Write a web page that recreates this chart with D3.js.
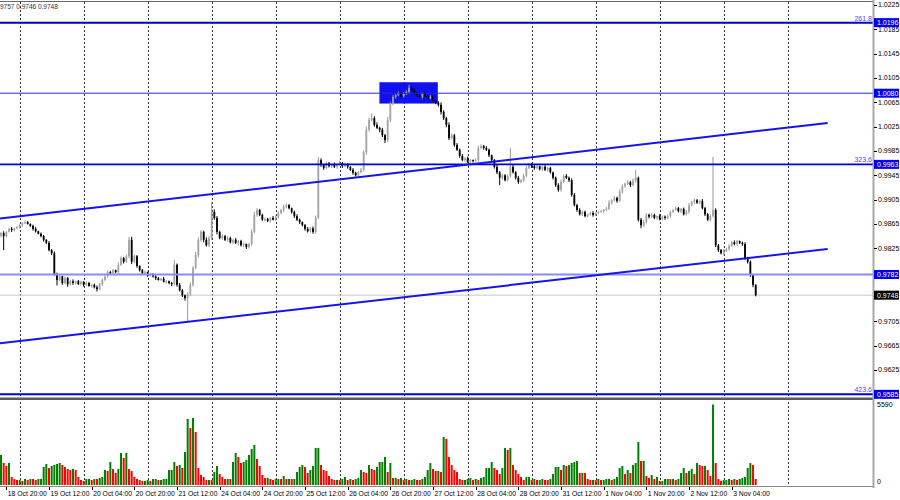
<!DOCTYPE html>
<html><head><meta charset="utf-8">
<script src="https://cdn.jsdelivr.net/npm/d3@7"></script>
<style>body{margin:0;background:#fff}svg{display:block;font-family:"Liberation Sans",Arial,sans-serif}</style>
</head><body><svg id="c" width="900" height="500"></svg>
<script>
// ---- data (H1 bars) ----
const closes=[
0.9850,0.9845,0.9852,0.9857,0.9855,0.9858,0.9860,0.9863,0.9867,0.9868,
0.9865,0.9862,0.9857,0.9853,0.9849,0.9845,0.9839,0.9834,0.9822,0.9817,
0.9783,0.9773,0.9779,0.9768,0.9776,0.9766,0.9771,0.9768,0.9771,0.9766,
0.9770,0.9765,0.9768,0.9763,0.9765,0.9761,0.9758,0.9766,0.9773,0.9779,
0.9786,0.9784,0.9789,0.9786,0.9798,0.9809,0.9803,0.9812,0.9839,0.9803,
0.9812,0.9796,0.9789,0.9784,0.9786,0.9781,0.9783,0.9779,0.9776,0.9773,
0.9775,0.9770,0.9771,0.9768,0.9766,0.9798,0.9765,0.9756,0.9748,0.9743,
0.9750,0.9765,0.9793,0.9814,0.9839,0.9852,0.9839,0.9830,0.9842,0.9885,
0.9875,0.9852,0.9842,0.9845,0.9839,0.9842,0.9835,0.9839,0.9834,0.9837,
0.9830,0.9832,0.9827,0.9832,0.9852,0.9880,0.9888,0.9880,0.9872,0.9873,
0.9870,0.9875,0.9872,0.9877,0.9883,0.9888,0.9893,0.9896,0.9891,0.9885,
0.9878,0.9872,0.9868,0.9863,0.9857,0.9853,0.9858,0.9852,0.9875,0.9970,
0.9962,0.9957,0.9965,0.9960,0.9963,0.9959,0.9962,0.9965,0.9960,0.9963,
0.9959,0.9954,0.9949,0.9945,0.9950,0.9954,0.9983,1.0020,1.0036,1.0039,
1.0028,1.0023,1.0020,1.0011,1.0003,1.0036,1.0062,1.0074,1.0077,1.0080,
1.0075,1.0079,1.0082,1.0089,1.0085,1.0080,1.0077,1.0074,1.0079,1.0075,
1.0072,1.0074,1.0069,1.0064,1.0061,1.0049,1.0039,1.0028,1.0006,1.0011,
0.9995,0.9987,0.9977,0.9970,0.9973,0.9967,0.9970,0.9969,0.9970,0.9990,
0.9993,0.9990,0.9987,0.9978,0.9970,0.9959,0.9950,0.9941,0.9945,0.9937,
0.9944,0.9959,0.9950,0.9941,0.9934,0.9937,0.9944,0.9957,0.9963,0.9960,
0.9957,0.9960,0.9955,0.9959,0.9954,0.9957,0.9950,0.9941,0.9929,0.9921,
0.9934,0.9944,0.9941,0.9937,0.9913,0.9896,0.9888,0.9881,0.9885,0.9878,
0.9881,0.9883,0.9880,0.9883,0.9885,0.9886,0.9888,0.9890,0.9900,0.9904,
0.9908,0.9903,0.9918,0.9927,0.9931,0.9934,0.9929,0.9936,0.9941,0.9872,
0.9863,0.9868,0.9880,0.9877,0.9880,0.9875,0.9878,0.9873,0.9877,0.9875,
0.9878,0.9885,0.9888,0.9891,0.9886,0.9890,0.9881,0.9885,0.9896,0.9901,
0.9904,0.9900,0.9903,0.9891,0.9881,0.9872,0.9878,0.9888,0.9830,0.9822,
0.9817,0.9821,0.9824,0.9829,0.9835,0.9832,0.9837,0.9834,0.9832,0.9809,
0.9803,0.9781,0.9765,0.9748];
const opens=[
0.9846,0.9850,0.9845,0.9852,0.9857,0.9855,0.9858,0.9860,0.9863,0.9867,
0.9868,0.9865,0.9862,0.9857,0.9853,0.9849,0.9845,0.9839,0.9834,0.9822,
0.9817,0.9783,0.9773,0.9779,0.9768,0.9776,0.9766,0.9771,0.9768,0.9771,
0.9766,0.9770,0.9765,0.9768,0.9763,0.9765,0.9761,0.9758,0.9766,0.9773,
0.9779,0.9786,0.9784,0.9789,0.9786,0.9798,0.9809,0.9803,0.9812,0.9839,
0.9803,0.9812,0.9796,0.9789,0.9784,0.9786,0.9781,0.9783,0.9779,0.9776,
0.9773,0.9775,0.9770,0.9771,0.9768,0.9766,0.9798,0.9765,0.9756,0.9748,
0.9743,0.9750,0.9765,0.9793,0.9814,0.9839,0.9852,0.9839,0.9830,0.9842,
0.9885,0.9875,0.9852,0.9842,0.9845,0.9839,0.9842,0.9835,0.9839,0.9834,
0.9837,0.9830,0.9832,0.9827,0.9832,0.9852,0.9880,0.9888,0.9880,0.9872,
0.9873,0.9870,0.9875,0.9872,0.9877,0.9883,0.9888,0.9893,0.9896,0.9891,
0.9885,0.9878,0.9872,0.9868,0.9863,0.9857,0.9853,0.9858,0.9852,0.9875,
0.9970,0.9962,0.9957,0.9965,0.9960,0.9963,0.9959,0.9962,0.9965,0.9960,
0.9963,0.9959,0.9954,0.9949,0.9945,0.9950,0.9954,0.9983,1.0020,1.0036,
1.0039,1.0028,1.0023,1.0020,1.0011,1.0003,1.0036,1.0062,1.0074,1.0077,
1.0080,1.0075,1.0079,1.0082,1.0089,1.0085,1.0080,1.0077,1.0074,1.0079,
1.0075,1.0072,1.0074,1.0069,1.0064,1.0061,1.0049,1.0039,1.0028,1.0006,
1.0011,0.9995,0.9987,0.9977,0.9970,0.9973,0.9967,0.9970,0.9969,0.9970,
0.9990,0.9993,0.9990,0.9987,0.9978,0.9970,0.9959,0.9950,0.9941,0.9945,
0.9937,0.9944,0.9959,0.9950,0.9941,0.9934,0.9937,0.9944,0.9957,0.9963,
0.9960,0.9957,0.9960,0.9955,0.9959,0.9954,0.9957,0.9950,0.9941,0.9929,
0.9921,0.9934,0.9944,0.9941,0.9937,0.9913,0.9896,0.9888,0.9881,0.9885,
0.9878,0.9881,0.9883,0.9880,0.9883,0.9885,0.9886,0.9888,0.9890,0.9900,
0.9904,0.9908,0.9903,0.9918,0.9927,0.9931,0.9934,0.9929,0.9936,0.9941,
0.9872,0.9863,0.9868,0.9880,0.9877,0.9880,0.9875,0.9878,0.9873,0.9877,
0.9875,0.9878,0.9885,0.9888,0.9891,0.9886,0.9890,0.9881,0.9885,0.9896,
0.9901,0.9904,0.9900,0.9903,0.9891,0.9881,0.9872,0.9878,0.9888,0.9830,
0.9822,0.9817,0.9821,0.9824,0.9829,0.9835,0.9832,0.9837,0.9834,0.9832,
0.9809,0.9803,0.9781,0.9765];
// wick lengths beyond the body, in pips (0.0001)
const upperWicks=[
2,3,1,2,3,1,2,2,1,3, 2,1,2,3,1,2,2,1,3,2, 3,2,4,1,3,2,2,3,1,2, 2,1,3,2,1,2,3,2,2,1,
3,2,2,1,4,3,2,3,5,5, 3,2,1,2,3,1,2,1,2,2, 1,3,2,1,2,8,2,3,2,1, 3,4,3,5,4,3,2,4,3,16,
4,3,2,3,2,3,2,1,3,2, 2,3,1,2,4,5,3,2,2,3, 2,1,3,2,3,2,4,3,2,1, 2,3,2,1,2,3,2,3,4,5,
3,2,3,2,1,3,2,4,2,3, 2,1,3,2,2,3,3,5,4,8, 3,4,2,3,2,5,4,3,2,3, 2,3,3,5,2,3,2,3,2,3,
2,3,2,1,3,4,3,2,4,3, 2,3,2,3,2,3,2,1,3,4, 3,2,3,2,1,2,3,2,3,2, 3,31,3,2,3,2,3,4,3,2,
2,3,1,2,3,2,2,1,2,3, 4,2,3,2,3,3,2,3,2,2, 1,2,3,2,1,2,2,3,4,2, 3,2,4,3,2,3,2,4,13,2,
3,4,3,2,3,2,1,3,2,2, 3,2,2,3,2,1,2,3,4,2, 3,2,2,3,2,2,3,87,3,2, 2,3,2,3,2,3,2,1,2,3,
2,2,1,1];
const lowerWicks=[
3,23,2,1,3,2,1,2,3,2, 1,2,3,2,1,2,3,2,2,3, 3,9,2,3,2,4,2,3,2,1, 2,3,2,1,3,2,4,2,3,2,
2,3,1,2,3,2,3,2,3,4, 2,3,2,1,2,3,2,2,3,1, 2,1,3,2,3,2,3,2,3,4, 39,3,3,2,4,3,4,2,3,3,
3,4,2,3,2,3,2,3,2,4, 2,3,3,2,3,2,3,2,2,3, 2,3,1,2,3,2,3,2,2,3, 3,2,3,2,3,2,2,3,3,2,
3,3,2,2,3,2,3,1,3,2, 3,2,3,2,3,2,3,4,3,2, 3,2,4,3,5,3,4,2,3,2, 3,2,2,3,3,2,3,2,3,2,
3,2,3,2,3,4,3,4,3,2, 3,2,3,2,3,2,2,3,2,3, 2,3,2,3,2,3,3,12,3,2, 2,3,2,3,3,2,3,2,2,3,
3,2,2,3,2,3,2,3,3,3, 3,2,2,3,3,2,3,2,3,2, 2,2,3,2,2,1,3,2,2,3, 2,3,2,3,2,2,3,2,3,3,
5,3,2,3,2,2,3,2,2,3, 2,3,2,1,2,3,2,2,3,2, 3,2,3,2,3,2,3,2,3,3, 2,3,2,3,2,2,3,2,3,3,
3,3,4,2];
const volumes=[
2085,1529,1321,1535,556,417,348,352,278,417,
348,421,415,350,419,425,1251,1460,1182,1321,
1390,1460,1529,1392,1251,1112,1043,1115,1040,556,
348,278,417,420,346,418,414,487,556,1043,
973,1599,1112,834,1112,2224,1877,2230,1110,973,
556,417,348,278,280,348,276,417,419,348,
350,417,421,1043,1046,1599,1321,1390,1182,2294,
4587,3962,4657,3684,1182,695,556,348,350,346,
904,1321,765,556,417,419,415,1599,2224,1946,
1529,1599,1738,2085,2502,2780,1807,1321,695,487,
489,417,348,417,420,415,626,417,419,416,
418,904,1251,1390,1251,834,1043,1321,2572,2575,
1390,1043,973,626,417,348,350,346,417,556,
348,417,348,417,487,1043,904,834,1390,1112,
1043,1251,1599,1602,1946,904,1529,487,489,417,
487,348,417,348,350,417,348,346,417,556,
1043,1529,1112,973,975,904,3336,3197,1946,1390,
1043,904,417,348,350,417,487,348,417,348,
487,556,1182,1185,1599,1182,1043,765,1182,2572,
2433,2575,1390,1043,765,556,348,556,558,348,
417,348,350,417,348,346,417,765,1251,1254,
1043,1390,1321,1390,1529,1599,1668,834,836,832,
417,348,350,346,417,348,350,417,419,348,
417,556,1182,1321,765,1043,834,1390,1529,2989,
1668,1671,626,487,695,417,556,278,280,417,
419,415,417,348,417,834,1182,834,973,1112,
765,1529,1390,1321,1324,1043,626,5590,1529,417,
278,348,350,417,348,417,346,417,487,556,
1182,1529,1390,417];
const dateLabels=["18 Oct 20:00","19 Oct 12:00","20 Oct 04:00","20 Oct 20:00","21 Oct 12:00","24 Oct 04:00","24 Oct 20:00","25 Oct 12:00","26 Oct 04:00","26 Oct 20:00","27 Oct 12:00","28 Oct 04:00","28 Oct 20:00","31 Oct 12:00","1 Nov 04:00","1 Nov 20:00","2 Nov 12:00","3 Nov 04:00"];
const dateLabelBars=[2,18,34,50,66,82,98,114,130,146,162,178,194,210,226,242,258,274];
const gridBars=[7,31,55,79,103,127,151,175,199,223,247,271,295];
const priceTicks=[1.0225,1.0185,1.0145,1.0105,1.0065,1.0025,0.9985,0.9945,0.9905,0.9865,0.9825,0.9705,0.9665,0.9625];
const levelPrices=[1.0196,1.0080,0.9963,0.9782,0.9585];
const levelFibTexts=["261.8","","323.6","","423.6"];
const lastPrice=0.9748;
const channelUpper=[[-0.375,0.9874],[310,1.0031]];
const channelLower=[[-0.375,0.9669],[310,0.9824]];
const zoneBars=[141.9,163.8];
const zonePrices=[1.0063,1.0098];
const volumeMax=5590;
const headerText="9757 0.9746 0.9748";

// ---- drawing ----
const svg=d3.select("#c");
const AX=873;
const x=d3.scaleLinear().domain([-0.375,310]).range([0,827.7]);
const y=d3.scaleLinear().domain([0.9625,1.0225]).range([370,5]);
const yv=d3.scaleLinear().domain([0,volumeMax]).range([485,404.5]);

svg.append("rect").attr("width",900).attr("height",500).attr("fill","#fff");
const defs=svg.append("defs");
defs.append("clipPath").attr("id","cm").append("rect").attr("x",0).attr("y",2).attr("width",AX).attr("height",395.5);
defs.append("clipPath").attr("id","cv").append("rect").attr("x",0).attr("y",400).attr("width",AX).attr("height",86);

// vertical grid
svg.append("g").selectAll("line").data(gridBars).join("line")
  .attr("x1",d=>Math.round(x(d))+0.5).attr("x2",d=>Math.round(x(d))+0.5)
  .attr("y1",2).attr("y2",486).attr("stroke","#333").attr("stroke-width",1).attr("stroke-dasharray","2,2");

const main=svg.append("g").attr("clip-path","url(#cm)");
// zone rectangle
main.append("rect").attr("x",x(zoneBars[0])).attr("width",x(zoneBars[1])-x(zoneBars[0]))
  .attr("y",y(zonePrices[1])).attr("height",y(zonePrices[0])-y(zonePrices[1])).attr("fill","#1010f0");
// bid line
main.append("line").attr("x1",0).attr("x2",AX).attr("y1",y(lastPrice)).attr("y2",y(lastPrice)).attr("stroke","#c8c8c8").attr("stroke-width",1);

// candles
const bars=d3.range(closes.length).map(i=>{
  const o=opens[i],c=closes[i];
  return {i,o,c,h:Math.max(o,c)+upperWicks[i]*0.0001,l:Math.min(o,c)-lowerWicks[i]*0.0001,bull:c>=o};
});
const cg=main.append("g");
cg.selectAll("line").data(bars).join("line")
  .attr("x1",d=>x(d.i)).attr("x2",d=>x(d.i)).attr("y1",d=>y(d.h)).attr("y2",d=>y(d.l))
  .attr("stroke",d=>d.bull?"#9a9a9a":"#000").attr("stroke-width",1);
cg.selectAll("rect").data(bars).join("rect")
  .attr("x",d=>x(d.i)-0.9).attr("width",1.8)
  .attr("y",d=>y(Math.max(d.o,d.c)))
  .attr("height",d=>Math.max(1,y(Math.min(d.o,d.c))-y(Math.max(d.o,d.c))))
  .attr("fill",d=>d.bull?"#a4a4a4":"#000");

// level lines
const levelStyle=[["#0000cc",2],["#2a2ac8",1],["#0000dd",1.6],["#8a8aff",2],["#0000ee",2]];
levelPrices.forEach((p,k)=>{
  main.append("line").attr("x1",0).attr("x2",AX).attr("y1",y(p)).attr("y2",y(p))
    .attr("stroke",levelStyle[k][0]).attr("stroke-width",levelStyle[k][1]);
  if(levelFibTexts[k]) svg.append("text").attr("x",872).attr("y",y(p)-2).attr("text-anchor","end")
    .attr("font-size",7).attr("fill","#4a4aff").text(levelFibTexts[k]);
});
// channel
[channelUpper,channelLower].forEach(ch=>{
  main.append("line").attr("x1",x(ch[0][0])).attr("y1",y(ch[0][1])).attr("x2",x(ch[1][0])).attr("y2",y(ch[1][1]))
    .attr("stroke","#1414f0").attr("stroke-width",2);
});

// volumes
const vg=svg.append("g").attr("clip-path","url(#cv)");
vg.selectAll("rect").data(volumes).join("rect")
  .attr("x",(d,i)=>x(i)-1).attr("width",2)
  .attr("y",d=>yv(d)).attr("height",d=>yv(0)-yv(d))
  .attr("fill",(d,i)=>(i===0||d>volumes[i-1])?"#008000":"#ff0000");

// frame
svg.append("line").attr("x1",0).attr("x2",AX).attr("y1",1.5).attr("y2",1.5).attr("stroke","#666").attr("stroke-width",1);
svg.append("rect").attr("x",0).attr("y",397.5).attr("width",AX).attr("height",2.5).attr("fill","#5a5a5a");
svg.append("line").attr("x1",0).attr("x2",AX+1).attr("y1",486.5).attr("y2",486.5).attr("stroke","#888").attr("stroke-width",1);
svg.append("line").attr("x1",AX+0.5).attr("x2",AX+0.5).attr("y1",0).attr("y2",488).attr("stroke","#a8a8a8").attr("stroke-width",2);

// price axis
const pa=svg.append("g");
pa.selectAll("line").data(priceTicks).join("line")
  .attr("x1",AX+1).attr("x2",AX+4).attr("y1",d=>Math.round(y(d))+0.5).attr("y2",d=>Math.round(y(d))+0.5)
  .attr("stroke","#000").attr("stroke-width",1);
pa.selectAll("text").data(priceTicks).join("text")
  .attr("x",AX+5).attr("y",d=>y(d)).attr("dy","0.35em").attr("font-size",7).attr("fill","#000")
  .text(d=>d.toFixed(4));
// level boxes
const boxes=levelPrices.map(p=>({p,fill:"#0000f0"})).concat([{p:lastPrice,fill:"#000"}]);
const bg=svg.append("g");
bg.selectAll("rect").data(boxes).join("rect")
  .attr("x",AX+1).attr("width",25).attr("y",d=>y(d.p)-4.5).attr("height",9).attr("fill",d=>d.fill);
bg.selectAll("text").data(boxes).join("text")
  .attr("x",AX+4).attr("y",d=>y(d.p)).attr("dy","0.35em").attr("font-size",7).attr("fill","#fff")
  .text(d=>d.p.toFixed(4));

// volume axis
svg.append("text").attr("x",AX+4).attr("y",yv(volumeMax)).attr("dy","0.35em").attr("font-size",7).text(volumeMax);
svg.append("text").attr("x",AX+4).attr("y",482).attr("dy","0.35em").attr("font-size",7).text("0");

// time axis
const ta=svg.append("g");
ta.selectAll("line").data(dateLabelBars).join("line")
  .attr("x1",d=>Math.round(x(d))+0.5).attr("x2",d=>Math.round(x(d))+0.5).attr("y1",487).attr("y2",490)
  .attr("stroke","#000");
ta.selectAll("text").data(dateLabels).join("text")
  .attr("x",(d,k)=>x(dateLabelBars[k])+1.5).attr("y",495.5).attr("font-size",6.8).attr("fill","#000").text(d=>d);

// header
svg.append("text").attr("x",0).attr("y",8.5).attr("font-size",6.5).attr("fill","#333").text(headerText);
</script></body></html>
